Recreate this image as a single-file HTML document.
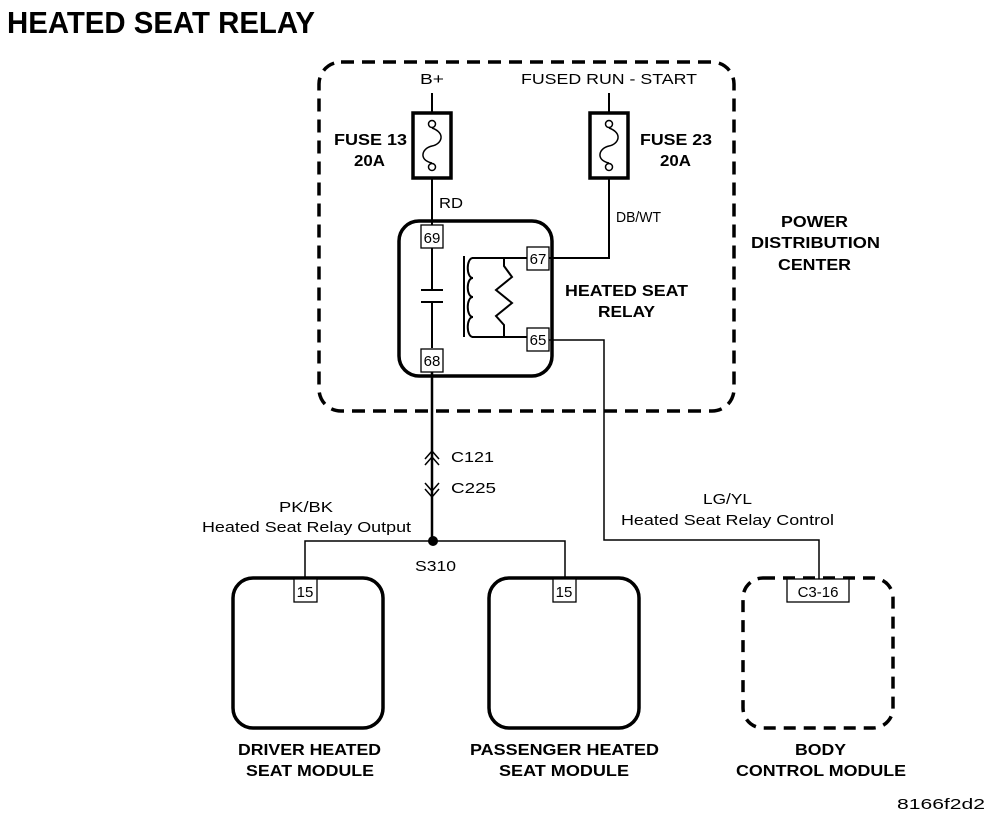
<!DOCTYPE html>
<html><head><meta charset="utf-8"><style>
html,body{margin:0;padding:0;background:#fff;}
svg{display:block;}
text{font-family:"Liberation Sans",Arial,sans-serif;fill:#000;}
.b{font-weight:bold;font-size:16px;}
.n{font-size:15px;}
</style></head><body>
<svg width="1008" height="818" viewBox="0 0 1008 818" xmlns="http://www.w3.org/2000/svg">
<text x="7" y="33" style="font-weight:bold;font-size:31px;" textLength="308" lengthAdjust="spacingAndGlyphs">HEATED SEAT RELAY</text>

<rect x="319" y="62" width="415" height="349" rx="22" fill="none" stroke="#000" stroke-width="3.5" stroke-dasharray="13,8"/>
<text class="b" x="781" y="227" textLength="67" lengthAdjust="spacingAndGlyphs">POWER</text>
<text class="b" x="751" y="248" textLength="129" lengthAdjust="spacingAndGlyphs">DISTRIBUTION</text>
<text class="b" x="778" y="270" textLength="73" lengthAdjust="spacingAndGlyphs">CENTER</text>

<text class="n" x="420" y="84" textLength="24" lengthAdjust="spacingAndGlyphs">B+</text>
<text class="n" x="521" y="84" textLength="176" lengthAdjust="spacingAndGlyphs">FUSED RUN - START</text>

<g stroke="#000" fill="none">
<line x1="432" y1="93" x2="432" y2="225" stroke-width="2"/>
<rect x="413" y="113" width="38" height="65" fill="#fff" stroke-width="3.5"/>
<circle cx="432" cy="124" r="3.5" fill="#fff" stroke-width="1.5"/>
<circle cx="432" cy="167" r="3.5" fill="#fff" stroke-width="1.5"/>
<path d="M432,128 C446,133 442,144 432,146 C422,148 418,160 432,163" stroke-width="1.5"/>
<line x1="609" y1="93" x2="609" y2="258" stroke-width="2"/>
<rect x="590" y="113" width="38" height="65" fill="#fff" stroke-width="3.5"/>
<circle cx="609" cy="124" r="3.5" fill="#fff" stroke-width="1.5"/>
<circle cx="609" cy="167" r="3.5" fill="#fff" stroke-width="1.5"/>
<path d="M609,128 C623,133 619,144 609,146 C599,148 595,160 609,163" stroke-width="1.5"/>
<line x1="549" y1="258" x2="610" y2="258" stroke-width="2"/>

<rect x="399" y="221" width="153" height="155" rx="20" stroke-width="3.5"/>
<line x1="432" y1="248" x2="432" y2="290" stroke-width="2"/>
<line x1="432" y1="302" x2="432" y2="348" stroke-width="2"/>
<line x1="421" y1="290" x2="443" y2="290" stroke-width="2"/>
<line x1="421" y1="302" x2="443" y2="302" stroke-width="2"/>
<line x1="464" y1="256" x2="464" y2="337" stroke-width="2"/>
<path d="M472,258 L527,258 M472,337 L527,337" stroke-width="2"/>
<path d="M473,258 C466,258 466,278 473,278 C466,278 466,297 473,297 C466,297 466,317 473,317 C466,317 466,337 473,337" stroke-width="2"/>
<path d="M504,258 L504,266 L512,277 L496,290 L512,303 L496,316 L504,325 L504,337" stroke-width="2"/>

<line x1="432" y1="372" x2="432" y2="541" stroke-width="2.5"/>
<path d="M425,459 L432,451 L439,459 M425,465 L432,457 L439,465" stroke-width="1.5"/>
<path d="M425,483 L432,491 L439,483 M425,489 L432,497 L439,489" stroke-width="1.5"/>
<path d="M305,578 L305,541 L565,541 L565,578" stroke-width="1.5"/>
<path d="M549,340 L604,340 L604,540 L819,540 L819,580" stroke-width="1.5"/>

<rect x="233" y="578" width="150" height="150" rx="20" stroke-width="3.5"/>
<rect x="489" y="578" width="150" height="150" rx="20" stroke-width="3.5"/>
<rect x="743" y="578" width="150" height="150" rx="20" stroke-width="3.5" stroke-dasharray="12,8"/>
</g>
<circle cx="433" cy="541" r="5" fill="#000"/>

<g stroke="#000" stroke-width="1.3" fill="#fff">
<rect x="421" y="225" width="22" height="23"/>
<rect x="421" y="349" width="22" height="23"/>
<rect x="527" y="247" width="22" height="23"/>
<rect x="527" y="328" width="22" height="23"/>
<rect x="294" y="579" width="23" height="23"/>
<rect x="553" y="579" width="23" height="23"/>
<rect x="787" y="579" width="62" height="23"/>
</g>
<text class="n" x="432" y="243" text-anchor="middle">69</text>
<text class="n" x="432" y="366" text-anchor="middle">68</text>
<text class="n" x="538" y="264" text-anchor="middle">67</text>
<text class="n" x="538" y="345" text-anchor="middle">65</text>
<text class="n" x="305" y="597" text-anchor="middle">15</text>
<text class="n" x="564" y="597" text-anchor="middle">15</text>
<text class="n" x="818" y="597" text-anchor="middle">C3-16</text>

<text class="b" x="334" y="145" textLength="73" lengthAdjust="spacingAndGlyphs">FUSE 13</text>
<text class="b" x="354" y="166" textLength="31" lengthAdjust="spacingAndGlyphs">20A</text>
<text class="b" x="640" y="145" textLength="72" lengthAdjust="spacingAndGlyphs">FUSE 23</text>
<text class="b" x="660" y="166" textLength="31" lengthAdjust="spacingAndGlyphs">20A</text>
<text class="n" x="439" y="208" textLength="24" lengthAdjust="spacingAndGlyphs">RD</text>
<text class="n" x="616" y="222" textLength="45" lengthAdjust="spacingAndGlyphs">DB/WT</text>
<text class="b" x="565" y="296" textLength="123" lengthAdjust="spacingAndGlyphs">HEATED SEAT</text>
<text class="b" x="598" y="317" textLength="57" lengthAdjust="spacingAndGlyphs">RELAY</text>

<text class="n" x="451" y="462" textLength="43" lengthAdjust="spacingAndGlyphs">C121</text>
<text class="n" x="451" y="493" textLength="45" lengthAdjust="spacingAndGlyphs">C225</text>
<text class="n" x="279" y="512" textLength="54" lengthAdjust="spacingAndGlyphs">PK/BK</text>
<text class="n" x="202" y="532" textLength="209" lengthAdjust="spacingAndGlyphs">Heated Seat Relay Output</text>
<text class="n" x="415" y="571" textLength="41" lengthAdjust="spacingAndGlyphs">S310</text>
<text class="n" x="703" y="504" textLength="49" lengthAdjust="spacingAndGlyphs">LG/YL</text>
<text class="n" x="621" y="525" textLength="213" lengthAdjust="spacingAndGlyphs">Heated Seat Relay Control</text>

<text class="b" x="238" y="755" textLength="143" lengthAdjust="spacingAndGlyphs">DRIVER HEATED</text>
<text class="b" x="246" y="776" textLength="128" lengthAdjust="spacingAndGlyphs">SEAT MODULE</text>
<text class="b" x="470" y="755" textLength="189" lengthAdjust="spacingAndGlyphs">PASSENGER HEATED</text>
<text class="b" x="499" y="776" textLength="130" lengthAdjust="spacingAndGlyphs">SEAT MODULE</text>
<text class="b" x="795" y="755" textLength="51" lengthAdjust="spacingAndGlyphs">BODY</text>
<text class="b" x="736" y="776" textLength="170" lengthAdjust="spacingAndGlyphs">CONTROL MODULE</text>
<text class="n" x="897" y="809" textLength="88" lengthAdjust="spacingAndGlyphs">8166f2d2</text>
</svg>
</body></html>
